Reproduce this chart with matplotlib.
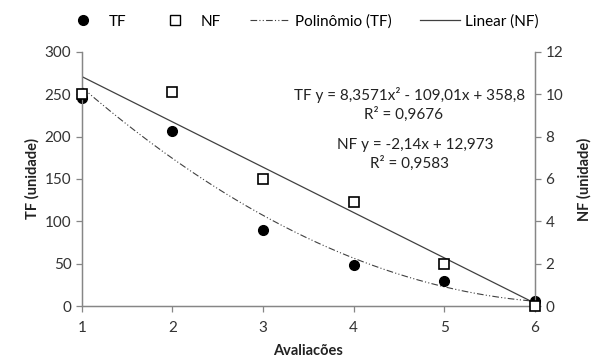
import numpy as np
import matplotlib
matplotlib.use("Agg")
import matplotlib.pyplot as plt
from matplotlib.lines import Line2D

plt.rcParams['font.family'] = ['Lato', 'DejaVu Sans']

avaliacoes = [1, 2, 3, 4, 5, 6]
tf = [245, 206, 90, 48, 29, 6]
nf = [10.0, 10.1, 6.0, 4.9, 2.0, 0.0]

# trendline coefficients as printed on the chart
poly_tf = [8.3571, -109.01, 358.8]
lin_nf = [-2.14, 12.973]

gray = "#868686"

fig = plt.figure(figsize=(5.93, 3.6), dpi=100)
ax = fig.add_axes([0.138, 0.15, 0.764, 0.706])
ax2 = ax.twinx()

xs = np.linspace(1, 6, 200)
ax.plot(xs, np.polyval(poly_tf, xs), color="#404040", lw=0.8,
        linestyle=(0, (6, 2, 1, 2, 1, 2)), zorder=2)
ax2.plot(xs, np.polyval(lin_nf, xs), color="#404040", lw=0.9, zorder=2)

ax.plot(avaliacoes, tf, "o", color="black", ms=7, zorder=4, clip_on=False)
ax2.plot(avaliacoes, nf, "s", mfc="white", mec="black", mew=1.2, ms=7,
         zorder=5, clip_on=False)

ax.set_xlim(1, 6)
ax.set_ylim(0, 300)
ax2.set_ylim(0, 12)
ax.set_yticks(range(0, 301, 50))
ax2.set_yticks(range(0, 13, 2))
ax.set_xticks(avaliacoes)

for a in (ax, ax2):
    a.spines['top'].set_visible(False)
    for s in ('left', 'right', 'bottom'):
        a.spines[s].set_color(gray)
        a.spines[s].set_linewidth(0.9)
    a.tick_params(colors=gray, labelcolor="#333333", labelsize=11,
                  length=4, width=0.9)
ax.tick_params(axis='x', pad=7)

ax.set_xlabel("Avaliacões", fontsize=10.5, fontweight="bold", color="#222222",
              labelpad=6)
ax.set_ylabel("TF (unidade)", fontsize=10.5, fontweight="bold", color="#222222")
ax2.set_ylabel("NF (unidade)", fontsize=10.5, fontweight="bold", color="#222222",
               labelpad=10)

fig.text(0.885, 0.736, "TF y = 8,3571x² - 109,01x + 358,8", ha="right",
         va="center", fontsize=11, color="#222222")
fig.text(0.68, 0.683, "R² = 0,9676", ha="center", va="center", fontsize=11,
         color="#222222")
fig.text(0.70, 0.597, "NF y = -2,14x + 12,973", ha="center", va="center",
         fontsize=11, color="#222222")
fig.text(0.69, 0.545, "R² = 0,9583", ha="center", va="center", fontsize=11,
         color="#222222")

handles = [
    Line2D([], [], marker="o", color="black", ls="none", ms=7),
    Line2D([], [], marker="s", mfc="white", mec="black", ls="none", ms=7),
    Line2D([], [], color="#404040", lw=0.8, linestyle=(0, (6, 2, 1, 2, 1, 2))),
    Line2D([], [], color="#404040", lw=0.9),
]
fig.legend(handles, ["TF", "NF", "Polinômio (TF)", "Linear (NF)"],
           loc="center", bbox_to_anchor=(0.508, 0.94), ncol=4, frameon=False,
           fontsize=11, handlelength=2.6, columnspacing=1.9,
           handletextpad=0.35)

fig.savefig("out.png", dpi=100)
